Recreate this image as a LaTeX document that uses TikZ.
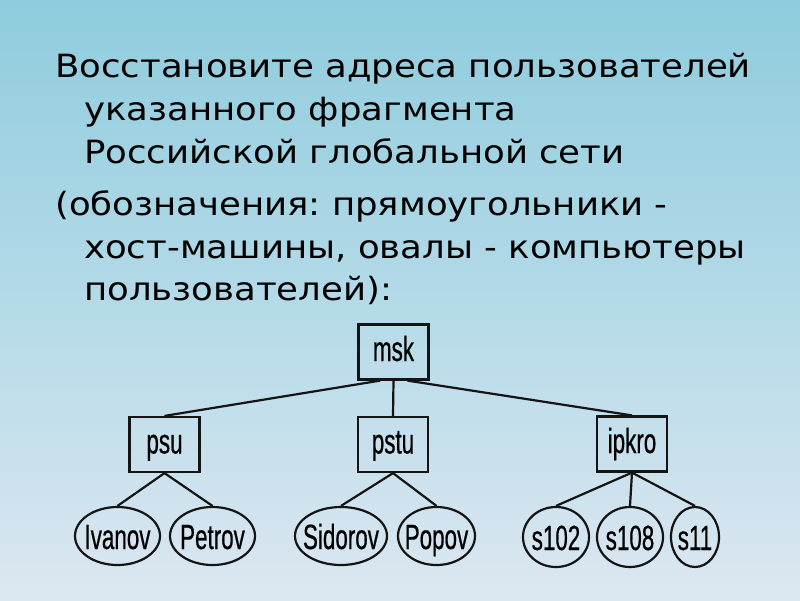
\documentclass[tikz,border=0pt]{standalone}
\usepackage{fontspec}
\setmainfont{DejaVu Sans}[FakeStretch=1.11]
\newfontfamily\diagfont{Liberation Sans}[FakeStretch=0.64,FakeBold=0.5]
\usetikzlibrary{shapes.geometric}
\definecolor{bgtop}{RGB}{143,204,221}
\definecolor{bgmid}{RGB}{180,218,232}
\definecolor{bgbot}{RGB}{220,231,241}
\definecolor{ink}{RGB}{20,20,20}
\tikzset{
  titletext/.style={anchor=base west, inner sep=0pt, font=\fontsize{32}{38}\selectfont, text=black},
  hostbox/.style={draw=ink, line width=2.2pt, rectangle, minimum width=70pt, minimum height=55pt, inner sep=0pt, text height=26pt, text depth=8pt, font=\diagfont\fontsize{35}{40}\selectfont},
  userov/.style={draw=ink, line width=2.2pt, ellipse, inner sep=0pt, text height=26pt, text depth=0pt, font=\diagfont\fontsize{35}{40}\selectfont},
  link/.style={draw=ink, line width=2.2pt}
}
\frenchspacing
\begin{document}
\begin{tikzpicture}[x=1pt,y=-1pt]
\shade[top color=bgtop, bottom color=bgbot, middle color=bgmid] (0,0) rectangle (800,600);
\useasboundingbox (0,0) rectangle (800,600);
\node[titletext] (t1) at (55,77) {Восстановите адреса пользователей};
\node[titletext] (t2) at (84,120) {указанного фрагмента};
\node[titletext] (t3) at (84,163) {Российской глобальной сети};
\node[titletext] (t4) at (55,215) {(обозначения: прямоугольники -};
\node[titletext] (t5) at (84,258) {хост-машины, овалы - компьютеры};
\node[titletext] (t6) at (84,300) {пользователей):};

\node[hostbox] (msk) at (393.5,352) {msk};
\node[hostbox] (psu) at (164.5,444.5) {psu};
\node[hostbox] (pstu) at (393,444.5) {pstu};
\node[hostbox] (ipkro) at (632,444) {ipkro};

\node[userov, minimum width=85pt, minimum height=58pt] (ivanov) at (117.5,536) {\makebox[0pt]{Ivanov}};
\node[userov, minimum width=85pt, minimum height=58pt] (petrov) at (212.5,536) {\makebox[0pt]{Petrov}};
\node[userov, minimum width=92pt, minimum height=58pt] (sidorov) at (341,536) {\makebox[0pt]{Sidorov}};
\node[userov, minimum width=77pt, minimum height=58pt] (popov) at (436.5,536) {\makebox[0pt]{Popov}};
\node[userov, minimum width=66pt, minimum height=60pt] (s102) at (556,537) {\makebox[0pt]{s102}};
\node[userov, minimum width=66pt, minimum height=60pt] (s108) at (630,537) {\makebox[0pt]{s108}};
\node[userov, minimum width=48pt, minimum height=60pt] (s11) at (695,537) {\makebox[0pt]{s11}};

\draw[link] (msk.245) -- (psu.north);
\draw[link] (msk.south) -- (pstu.north);
\draw[link] (msk.296) -- (ipkro.north);
\draw[link] (psu.south) -- (ivanov.north);
\draw[link] (psu.south) -- (petrov.north);
\draw[link] (pstu.south) -- (sidorov.north);
\draw[link] (pstu.south) -- (popov.north);
\draw[link] (ipkro.south) -- (s102.north);
\draw[link] (ipkro.south) -- (s108.north);
\draw[link] (ipkro.south) -- (s11.north);
\end{tikzpicture}
\end{document}
